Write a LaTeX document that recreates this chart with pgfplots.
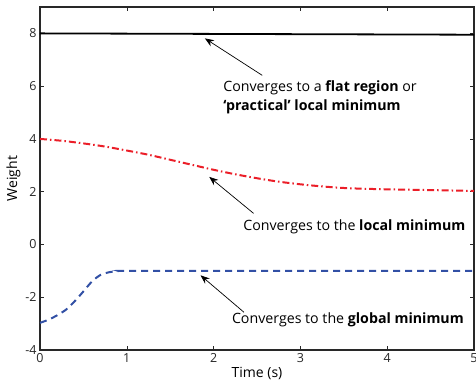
\documentclass[border=0pt]{standalone}
\usepackage{pgfplots}
\pgfplotsset{compat=1.18}
\usepackage{fontspec}
\setmainfont{Open Sans}
\usetikzlibrary{arrows.meta}
\definecolor{mred}{RGB}{235,30,40}
\definecolor{mblue}{RGB}{50,80,165}
\definecolor{axgray}{RGB}{40,40,40}
\begin{document}
\begin{tikzpicture}
\useasboundingbox (-40pt,-32pt) rectangle (436pt,350pt);
\begin{axis}[
  at={(0pt,0pt)}, anchor=south west,
  scale only axis, width=434pt, height=343pt,
  xmin=0, xmax=5, ymin=-4, ymax=9,
  xtick={0,1,2,3,4,5}, ytick={-4,-2,0,2,4,6,8},
  tick align=inside, major tick length=4pt,
  axis line style={axgray, line width=1.1pt},
  every tick/.style={axgray, line width=0.6pt},
  tick label style={font=\fontsize{12.5}{14}\selectfont, text=axgray},
  /pgf/number format/assume math mode=true,
  xlabel={Time (s)}, ylabel={Weight},
  label style={font=\fontsize{14}{16}\selectfont},
  xlabel style={yshift=2pt},
  ylabel style={yshift=-2pt},
  clip=true,
]
\addplot[black, line width=1.8pt] coordinates {(0,8.00) (1,7.99) (2,7.98) (3,7.97) (4,7.96) (5,7.95)};
\addplot[mred, line width=2pt, dash pattern=on 7pt off 3pt on 1.5pt off 3pt, smooth] coordinates {
(0,4.00) (0.25,3.93) (0.5,3.83) (0.75,3.71) (1.0,3.56) (1.25,3.40) (1.5,3.21) (1.75,3.02) (2.0,2.83) (2.25,2.66) (2.5,2.51) (2.75,2.38) (3.0,2.28) (3.25,2.20) (3.5,2.14) (3.75,2.11) (4.0,2.09) (4.5,2.06) (5.0,2.03)};
\addplot[mblue, line width=2pt, dash pattern=on 7pt off 5pt, smooth] coordinates {
(0,-2.97) (0.1,-2.85) (0.2,-2.68) (0.3,-2.47) (0.4,-2.15) (0.5,-1.78) (0.6,-1.40) (0.7,-1.15) (0.8,-1.05) (0.9,-1.01) (1.0,-1.0) (2,-1.0) (3,-1.0) (4,-1.0) (5,-1.0)};
\draw[-{Stealth[length=9pt,width=7pt]}, line width=0.7pt] (axis cs:2.56,6.41) -- (axis cs:1.90,7.81);
\draw[-{Stealth[length=9pt,width=7pt]}, line width=0.7pt] (axis cs:2.46,1.18) -- (axis cs:1.95,2.56);
\draw[-{Stealth[length=9pt,width=7pt]}, line width=0.7pt] (axis cs:2.35,-2.57) -- (axis cs:1.85,-1.17);
\node[anchor=west, inner sep=0pt, font=\fontsize{14.2}{16}\selectfont] at (axis cs:2.11,5.95) {Converges to a \textbf{flat region} or};
\node[anchor=west, inner sep=0pt, font=\fontsize{14.2}{16}\selectfont] at (axis cs:2.11,5.23) {\textbf{‘practical’ local minimum}};
\node[anchor=west, inner sep=0pt, font=\fontsize{14.2}{16}\selectfont] at (axis cs:2.34,0.65) {Converges to the \textbf{local minimum}};
\node[anchor=west, inner sep=0pt, font=\fontsize{14.2}{16}\selectfont] at (axis cs:2.21,-2.87) {Converges to the \textbf{global minimum}};
\end{axis}
\end{tikzpicture}
\end{document}
